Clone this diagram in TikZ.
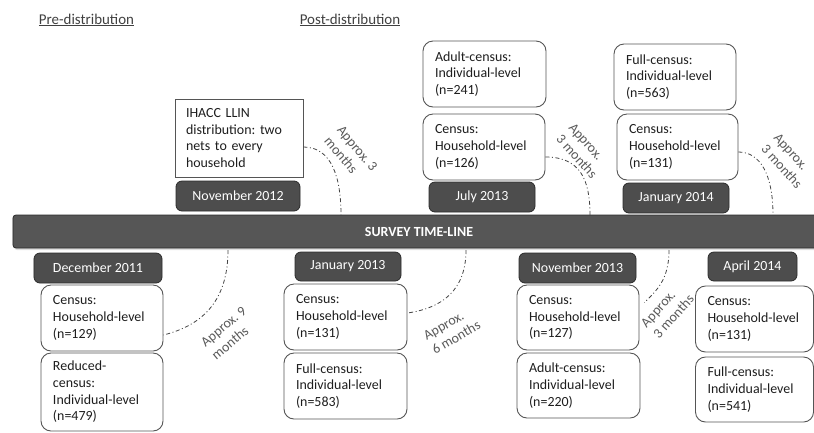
\documentclass[tikz,border=0pt]{standalone}
\usepackage{fontspec}
\setmainfont{Carlito}
\usetikzlibrary{shadows}
\definecolor{darkbox}{HTML}{4D4D4D}
\definecolor{darkedge}{HTML}{2B2B2B}
\definecolor{boxedge}{HTML}{555555}
\definecolor{labelgray}{HTML}{5A5A5A}
\definecolor{titlegray}{HTML}{404040}
\definecolor{textdark}{HTML}{1E1E1E}
\definecolor{arcgray}{HTML}{444444}
\frenchspacing
\begin{document}
\begin{tikzpicture}[x=1bp,y=-1bp,
  every node/.style={font=\fontsize{14}{16.8}\selectfont},
  wbox/.style={draw=boxedge, line width=0.9bp, rounded corners=10bp, fill=white, align=left, inner xsep=12bp, inner ysep=0bp, text=textdark},
  sqbox/.style={draw=boxedge, line width=0.9bp, fill=white, align=left, inner xsep=11bp, inner ysep=0bp, text=textdark},
  datebox/.style={draw=darkedge, fill=darkbox, rounded corners=6bp, line width=0.8bp, text=white, inner sep=0bp},
  barbox/.style={draw=darkedge, fill=darkbox!95!white, rounded corners=3bp, line width=0.8bp, text=white, inner sep=0bp, font=\bfseries\fontsize{14}{16.8}\selectfont, drop shadow={shadow xshift=1bp, shadow yshift=-2bp, opacity=0.25}},
  arcline/.style={draw=arcgray, line width=0.8bp, dash pattern=on 4bp off 2.5bp on 1bp off 2.5bp},
  gaplabel/.style={text=labelgray, align=left, inner sep=0bp},
  titletext/.style={text=titlegray, inner sep=0bp, font=\fontsize{15}{18}\selectfont}
]
\useasboundingbox[fill=white] (0,0) rectangle (814,432);

% titles
\node[titletext] (pre) at (86.5,20) {\underline{Pre-distribution}};
\node[titletext] (post) at (350,20) {\underline{Post-distribution}};

% time-line bar
\node[barbox, minimum width=812bp, minimum height=33bp] (bar) at (419,231.5) {SURVEY TIME-LINE};

% top side
\node[sqbox, text width=106bp, minimum height=78bp] (ihacc) at (239,138) {IHACC LLIN\\distribution: two\\nets to every\\household};
\node[datebox, minimum width=124bp, minimum height=30bp] (nov12) at (238,196) {November 2012};

\node[wbox, text width=99bp, minimum height=66bp] (adult241) at (484.5,74) {Adult-census:\\Individual-level\\(n=241)};
\node[wbox, text width=98bp, minimum height=66bp] (census126) at (484,147) {Census:\\Household-level\\(n=126)};
\node[datebox, minimum width=106bp, minimum height=30bp] (jul13) at (482,197) {July 2013};

\node[wbox, text width=98bp, minimum height=66bp] (full563) at (675,77) {Full-census:\\Individual-level\\(n=563)};
\node[wbox, text width=97bp, minimum height=66bp] (census131b) at (677.5,147) {Census:\\Household-level\\(n=131)};
\node[datebox, minimum width=106bp, minimum height=30bp] (jan14) at (676,198) {January 2014};

% bottom side
\node[datebox, minimum width=128bp, minimum height=30bp] (dec11) at (98,268) {December 2011};
\node[wbox, text width=98bp, minimum height=66bp] (census129) at (102,318) {Census:\\Household-level\\(n=129)};
\node[wbox, text width=98bp, minimum height=78bp] (reduced479) at (102,392) {Reduced-\\census:\\Individual-level\\(n=479)};

\node[datebox, minimum width=106bp, minimum height=29bp] (jan13) at (348,266.5) {January 2013};
\node[wbox, text width=99bp, minimum height=66bp] (census131a) at (345.5,317) {Census:\\Household-level\\(n=131)};
\node[wbox, text width=99bp, minimum height=66bp] (full583) at (345.5,386) {Full-census:\\Individual-level\\(n=583)};

\node[datebox, minimum width=117bp, minimum height=30bp] (nov13) at (577.5,268) {November 2013};
\node[wbox, text width=98bp, minimum height=65bp] (census127) at (578,317.5) {Census:\\Household-level\\(n=127)};
\node[wbox, text width=99bp, minimum height=65bp] (adult220) at (578.5,385.5) {Adult-census:\\Individual-level\\(n=220)};

\node[datebox, minimum width=89bp, minimum height=29bp] (apr14) at (752.5,266.5) {April 2014};
\node[wbox, text width=94bp, minimum height=66bp] (census131c) at (754.5,319) {Census:\\Household-level\\(n=131)};
\node[wbox, text width=94bp, minimum height=65bp] (full541) at (754.5,389.5) {Full-census:\\Individual-level\\(n=541)};

% arc end points on the bar
\coordinate (t1) at (341,215);
\coordinate (t2) at (590,215);
\coordinate (t3) at (773,215);
\coordinate (b1) at (228,250);
\coordinate (b2) at (466,250);
\coordinate (b3) at (669,250);

% dash-dot interval arcs
\draw[arcline] ([yshift=-9bp]ihacc.east) .. controls +(28,0) and +(0,-38) .. (t1);
\draw[arcline] ([yshift=-10bp]census126.east) .. controls +(35,0) and +(0,-35) .. (t2);
\draw[arcline] ([yshift=-5bp]census131b.east) .. controls +(22,0) and +(0,-40) .. (t3);
\draw[arcline] (b1) .. controls +(0,50) and +(40,-10) .. ([yshift=-17bp]census129.east);
\draw[arcline] (b2) .. controls +(0,40) and +(35,-5) .. ([yshift=4bp]census131a.east);
\draw[arcline] (b3) .. controls +(0,30) and +(12,-12) .. ([xshift=5bp,yshift=15bp]census127.east);

% interval labels
\node[gaplabel, rotate=-50] (l1) at (351,154) {Approx. 3\\months};
\node[gaplabel, rotate=-48] (l2) at (583,151) {Approx.\\3 months};
\node[gaplabel, rotate=-48] (l3) at (788,161) {Approx.\\3 months};
\node[gaplabel, rotate=40] (l4) at (229,333) {Approx. 9\\months};
\node[gaplabel, rotate=30] (l5) at (452,330.5) {Approx.\\6 months};
\node[gaplabel, rotate=48] (l6) at (667.5,311) {Approx.\\3 months};
\end{tikzpicture}
\end{document}
